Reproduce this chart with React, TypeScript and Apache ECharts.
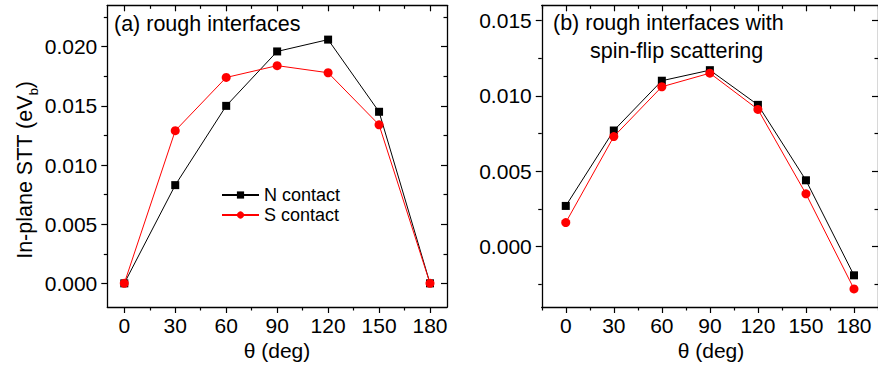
import React, { useEffect, useRef } from "react";
import * as echarts from "echarts";

const angles = [0, 30, 60, 90, 120, 150, 180];
const nContactA = [0, 0.0083, 0.015, 0.0196, 0.0206, 0.0145, 0];
const sContactA = [0, 0.0129, 0.0174, 0.0184, 0.0178, 0.0134, 0];
const nContactB = [0.0027, 0.0077, 0.011, 0.0117, 0.0094, 0.0044, -0.0019];
const sContactB = [0.0016, 0.0073, 0.0106, 0.0115, 0.0091, 0.0035, -0.0028];

const xMajor = [0, 30, 60, 90, 120, 150, 180];
const xMinorA = [15, 45, 75, 105, 135, 165];
const xMinorB = [-15, 15, 45, 75, 105, 135, 165, 195];
const yMajorA = [0, 0.005, 0.01, 0.015, 0.02];
const yMinorA = [0.0025, 0.0075, 0.0125, 0.0175, 0.0225];
const yMajorB = [0, 0.005, 0.01, 0.015];
const yMinorB = [-0.0025, 0.0025, 0.0075, 0.0125];

const seriesNames = ["N contact", "S contact"];
const panelLabelA = "(a) rough interfaces";
const panelLabelB1 = "(b) rough interfaces with";
const panelLabelB2 = "spin-flip scattering";
const xTitle = "θ (deg)";

const FONT = "'Liberation Sans', Arial, Helvetica, sans-serif";

function pair(xs: number[], ys: number[]) {
  return xs.map((x, i) => [x, ys[i]]);
}

function axisSet(
  dim: "x" | "y",
  gridIndex: number,
  min: number,
  max: number,
  major: number[],
  minor: number[],
  fmt: (v: number) => string
) {
  const posA = dim === "x" ? "bottom" : "left";
  const posB = dim === "x" ? "top" : "right";
  const base = {
    type: "value",
    gridIndex,
    min,
    max,
    splitLine: { show: false },
    axisLine: { show: false, onZero: false },
  };
  const line = { show: true, onZero: false, lineStyle: { color: "#000", width: 1.3 } };
  return [
    {
      ...base,
      position: posA,
      axisLine: line,
      axisTick: { show: true, inside: false, length: 6, customValues: major, lineStyle: { color: "#000", width: 1.2 } },
      axisLabel: {
        show: true,
        customValues: major,
        formatter: fmt,
        fontSize: 21,
        fontFamily: FONT,
        color: "#000",
        margin: dim === "x" ? 8 : 10,
      },
    },
    {
      ...base,
      position: posA,
      axisTick: { show: true, inside: false, length: 3.5, customValues: minor, lineStyle: { color: "#000", width: 1.2 } },
      axisLabel: { show: false },
    },
    {
      ...base,
      position: posB,
      axisLine: line,
      axisTick: { show: true, inside: true, length: 6, customValues: major, lineStyle: { color: "#000", width: 1.2 } },
      axisLabel: { show: false },
    },
    {
      ...base,
      position: posB,
      axisTick: { show: true, inside: true, length: 3.5, customValues: minor, lineStyle: { color: "#000", width: 1.2 } },
      axisLabel: { show: false },
    },
  ];
}

export default function App() {
  const ref = useRef<HTMLDivElement>(null);
  useEffect(() => {
    if (!ref.current) return;
    const chart = echarts.init(ref.current, null, { renderer: "svg" });
    const xf = (v: number) => String(Math.round(v));
    const yf = (v: number) => v.toFixed(3);
    const xAxis = [
      ...axisSet("x", 0, -10, 190, xMajor, xMinorA, xf),
      ...axisSet("x", 1, -15, 195, xMajor, xMinorB, xf),
    ];
    const yAxis = [
      ...axisSet("y", 0, -0.002, 0.0235, yMajorA, yMinorA, yf),
      ...axisSet("y", 1, -0.004, 0.016, yMajorB, yMinorB, yf),
    ];
    const mk = (name: string, data: number[][], idx: number, black: boolean) => ({
      type: "line",
      name,
      data,
      xAxisIndex: idx * 4,
      yAxisIndex: idx * 4,
      symbol: black ? "rect" : "circle",
      symbolSize: black ? 8 : 9,
      showSymbol: true,
      lineStyle: { color: black ? "#000" : "#ff0000", width: 1 },
      itemStyle: { color: black ? "#000" : "#ff0000" },
      z: black ? 2 : 3,
    });
    chart.setOption({
      animation: false,
      backgroundColor: "#fff",
      grid: [
        { left: 107.3, top: 5.3, width: 339.7, height: 301.7, containLabel: false },
        { left: 541.75, top: 5.3, width: 339.5, height: 301.7, containLabel: false },
      ],
      xAxis,
      yAxis,
      legend: {
        data: seriesNames,
        orient: "vertical",
        left: 221,
        top: 186,
        padding: 0,
        itemWidth: 37,
        itemHeight: 9,
        itemGap: 2,
        selectedMode: false,
        textStyle: { fontSize: 18, fontFamily: FONT, color: "#000", lineHeight: 18 },
      },
      series: [
        mk(seriesNames[0], pair(angles, nContactA), 0, true),
        mk(seriesNames[1], pair(angles, sContactA), 0, false),
        mk(seriesNames[0], pair(angles, nContactB), 1, true),
        mk(seriesNames[1], pair(angles, sContactB), 1, false),
      ],
      graphic: [
        {
          type: "text",
          left: 114,
          top: 13,
          style: { text: panelLabelA, fontSize: 21.5, fontFamily: FONT, fill: "#000" },
        },
        {
          type: "text",
          left: 553,
          top: 12,
          style: { text: panelLabelB1, fontSize: 21.5, fontFamily: FONT, fill: "#000" },
        },
        {
          type: "text",
          left: 590,
          top: 40,
          style: { text: panelLabelB2, fontSize: 21.5, fontFamily: FONT, fill: "#000" },
        },
        {
          type: "text",
          x: 277,
          y: 350,
          style: {
            text: xTitle,
            fontSize: 21,
            fontFamily: FONT,
            fill: "#000",
            align: "center",
            verticalAlign: "middle",
            textAlign: "center",
            textVerticalAlign: "middle",
          },
        },
        {
          type: "text",
          x: 711,
          y: 350,
          style: {
            text: xTitle,
            fontSize: 21,
            fontFamily: FONT,
            fill: "#000",
            align: "center",
            verticalAlign: "middle",
            textAlign: "center",
            textVerticalAlign: "middle",
          },
        },
        {
          type: "text",
          x: 25,
          y: 170,
          rotation: Math.PI / 2,
          style: {
            text: "{n|In-plane STT (eV}{s|b}{n|)}",
            align: "center",
            verticalAlign: "middle",
            textAlign: "center",
            textVerticalAlign: "middle",
            fill: "#000",
            rich: {
              n: { fontSize: 21.5, fontFamily: FONT, fill: "#000", lineHeight: 24, verticalAlign: "middle" },
              s: { fontSize: 13, fontFamily: FONT, fill: "#000", lineHeight: 13, verticalAlign: "bottom", padding: [0, 0, -3, 0] },
            },
          },
        },
      ],
    });
    return () => chart.dispose();
  }, []);
  return (
    <div
      ref={ref}
      style={{ position: "absolute", left: 0, top: 0, width: 878, height: 368 }}
    />
  );
}
